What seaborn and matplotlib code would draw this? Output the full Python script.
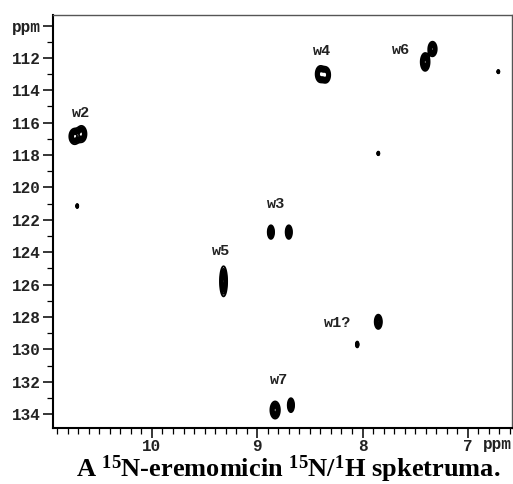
import numpy as np
import matplotlib
matplotlib.use("Agg")
import matplotlib.pyplot as plt
import seaborn as sns
from matplotlib.ticker import MultipleLocator

sns.set_style("ticks")
plt.rcParams["font.family"] = ["Liberation Mono", "DejaVu Sans Mono"]
plt.rcParams["mathtext.fontset"] = "custom"
plt.rcParams["mathtext.rm"] = "Liberation Serif:bold"
plt.rcParams["mathtext.it"] = "Liberation Serif:bold"
plt.rcParams["mathtext.bf"] = "Liberation Serif:bold"

# peak list: 1H shift, 15N shift, half widths (outer contour) in ppm
peak_h = [10.735, 10.67, 8.40, 8.35, 7.335, 7.405, 8.87, 8.70, 9.32, 7.85,
          8.83, 8.68, 10.71, 7.85, 6.71, 8.05]
peak_n = [116.85, 116.7, 113.0, 113.05, 111.45, 112.25, 122.76, 122.76, 125.8, 128.3,
          133.75, 133.45, 121.15, 117.9, 112.85, 129.7]
half_h = [0.05, 0.048, 0.045, 0.043, 0.04, 0.042, 0.03, 0.03, 0.034, 0.034,
          0.045, 0.03, 0.01, 0.01, 0.01, 0.013]
half_n = [0.48, 0.5, 0.5, 0.48, 0.45, 0.55, 0.42, 0.42, 0.93, 0.44,
          0.53, 0.43, 0.12, 0.11, 0.1, 0.18]

label_text = ["w2", "w4", "w6", "w3", "w5", "w1?", "w7"]
label_h = [10.67, 8.38, 7.63, 8.82, 9.34, 8.24, 8.79]
label_n = [115.4, 111.6, 111.5, 121.0, 123.9, 128.4, 131.9]

xlim = (10.94, 6.58)
ylim = (134.86, 109.35)

fig = plt.figure(figsize=(5.13, 4.84), dpi=100)
ax = fig.add_axes([53 / 513, 1 - 428 / 484, (512 - 53) / 513, (428 - 15) / 484])

gx = np.linspace(xlim[1], xlim[0], 1600)
gy = np.linspace(ylim[1], ylim[0], 1000)
X, Y = np.meshgrid(gx, gy)
Z = np.zeros_like(X)
for h, n, wh, wn in zip(peak_h, peak_n, half_h, half_n):
    sx = wh / 1.95
    sy = wn / 1.95
    Z = Z + np.exp(-0.5 * ((X - h) / sx) ** 2 - 0.5 * ((Y - n) / sy) ** 2)

ax.contour(X, Y, Z, levels=[0.15, 0.27, 0.39, 0.51, 0.63, 0.75, 0.87],
           colors="black", linewidths=1.3)

for t, h, n in zip(label_text, label_h, label_n):
    ax.text(h, n, t, ha="center", va="center", fontsize=11,
            fontweight="bold", color="#222222")

ax.set_xlim(xlim)
ax.set_ylim(ylim)

xt = [10, 9, 8, 7]
ax.set_xticks(xt)
ax.set_xticklabels([str(v) for v in xt])
ax.xaxis.set_minor_locator(MultipleLocator(0.1))
yt = list(range(110, 135, 2))
ax.set_yticks(yt)
ax.set_yticklabels(["ppm"] + [str(v) for v in yt[1:]])
ax.yaxis.set_minor_locator(MultipleLocator(1))

ax.tick_params(axis="both", which="major", direction="out", length=7, width=1.1,
               labelsize=11.5, pad=2, color="black", labelcolor="#222222")
ax.tick_params(axis="x", which="major", pad=1)
ax.tick_params(axis="both", which="minor", direction="out", length=4, width=0.9,
               color="black")
for lab in ax.get_xticklabels() + ax.get_yticklabels():
    lab.set_fontweight("bold")

ax.spines["left"].set_linewidth(1.5)
ax.spines["bottom"].set_linewidth(1.5)
ax.spines["left"].set_color("black")
ax.spines["bottom"].set_color("black")
ax.spines["top"].set_linewidth(1.0)
ax.spines["right"].set_linewidth(1.0)
ax.spines["top"].set_color("#555555")
ax.spines["right"].set_color("#555555")

fig.text(497 / 513, 1 - 445 / 484, "ppm", ha="center", va="center",
         fontsize=11.5, fontweight="bold", color="#222222")

fig.text(288 / 513, 1 - 477 / 484,
         r"A $^{15}$N-eremomicin $^{15}$N/$^{1}$H spketruma.",
         ha="center", va="baseline", fontsize=19,
         family="Liberation Serif", fontweight="bold", color="black")

fig.savefig("out.png", dpi=100)
